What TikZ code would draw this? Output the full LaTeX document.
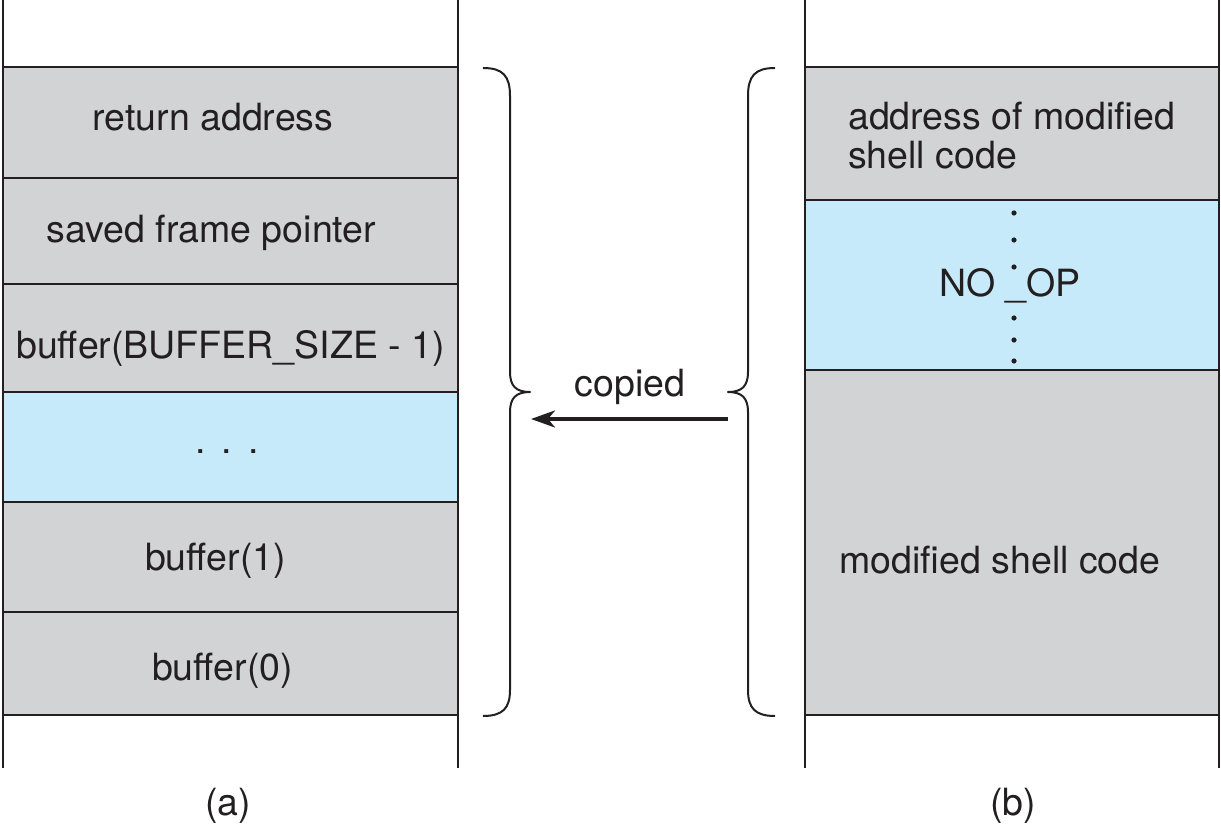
\documentclass[tikz,border=0pt]{standalone}
\usepackage{fontspec}
\setmainfont{TeX Gyre Heros}
\usetikzlibrary{arrows.meta}
\definecolor{cellgray}{RGB}{209,211,212}
\definecolor{cellblue}{RGB}{199,234,250}
\definecolor{inkc}{RGB}{35,31,32}
\begin{document}
\begin{tikzpicture}[x=1pt,y=-1pt,
  lbl/.style={inner sep=0pt,anchor=base,font=\fontsize{37.5}{44}\selectfont,text=inkc},
  rule/.style={draw=inkc,line width=2pt},
  side/.style={draw=inkc,line width=1.8pt},
  brace/.style={draw=inkc,line width=2pt,line join=round},
  dotc/.style={fill=inkc,draw=none}]
\useasboundingbox (0,0) rectangle (1221,826);
% left column cells
\fill[cellgray] (3,67) rectangle (458,392);
\fill[cellblue] (3,392) rectangle (458,502);
\fill[cellgray] (3,502) rectangle (458,715);
\foreach \yy in {67,178,284,392,502,612,715}{\draw[rule] (3,\yy) -- (458,\yy);}
\draw[side] (3,0) -- (3,768);
\draw[side] (458,0) -- (458,768);
% right column cells
\fill[cellgray] (805,67) rectangle (1219,200);
\fill[cellblue] (805,200) rectangle (1219,370);
\fill[cellgray] (805,370) rectangle (1219,715);
\foreach \yy in {67,200,370,715}{\draw[rule] (805,\yy) -- (1219,\yy);}
\draw[side] (805,0) -- (805,768);
\draw[side] (1219,0) -- (1219,768);
% left labels
\node[lbl] (ret) at (213,130.5) {return address};
\node[lbl] (sfp) at (211.5,242.5) {saved frame pointer};
\node[lbl] (bsz) at (230.5,358) {buffer(BUFFER\_SIZE - 1)};
\node[lbl] (dots) at (227,453) {.\hspace{16pt}.\hspace{16pt}.};
\node[lbl] (b1) at (215.5,570) {buffer(1)};
\node[lbl] (b0) at (222.5,680) {buffer(0)};
\node[lbl] (la) at (228,815) {(a)};
% right labels
\node[lbl,anchor=base west] (addr) at (848,130) {address of modified};
\node[lbl,anchor=base west] (addr2) at (848,169) {shell code};
\node[lbl] (noop) at (1010,297) {NO \_OP};
\foreach \yy in {213,240,267,318,340,361}{\fill[dotc] (1014,\yy) circle (2.6);}
\node[lbl] (msc) at (1000,573) {modified shell code};
\node[lbl] (lb) at (1013,815) {(b)};
% braces
\draw[brace] (483,68) .. controls (503,68) and (510,76) .. (510,96)
  -- (510,372) .. controls (510,386) and (516,392) .. (530,392)
  .. controls (516,392) and (510,398) .. (510,412)
  -- (510,690) .. controls (510,708) and (503,716) .. (483,716);
\draw[brace] (775,68) .. controls (755,68) and (748,76) .. (748,96)
  -- (748,372) .. controls (748,386) and (742,392) .. (728,392)
  .. controls (742,392) and (748,398) .. (748,412)
  -- (748,690) .. controls (748,708) and (755,716) .. (775,716);
% arrow
\coordinate (src) at (728,419);
\coordinate (dst) at (531,419);
\draw[draw=inkc,line width=3.6pt,-{Stealth[length=24pt,width=17pt,inset=7pt]}] (src) -- (dst);
\node[lbl] (cop) at (630,396) {copied};
\end{tikzpicture}
\end{document}
